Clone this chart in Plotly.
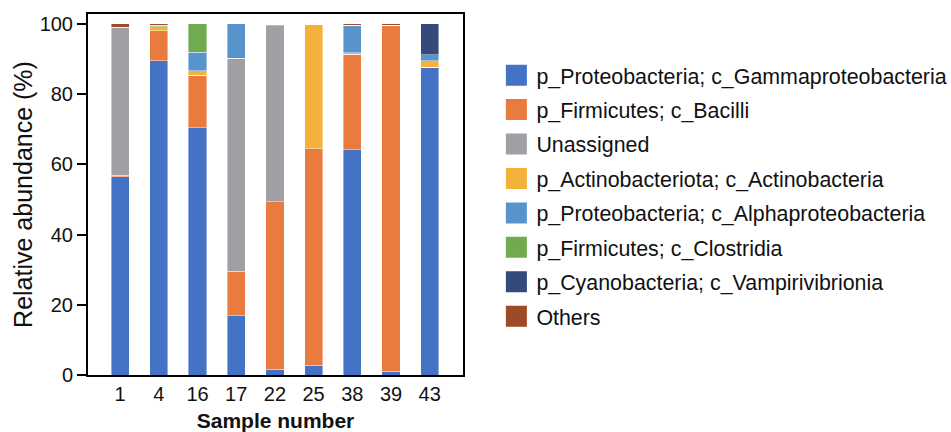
import plotly.graph_objects as go

samples = ["1", "4", "16", "17", "22", "25", "38", "39", "43"]

series_names = [
    "p_Proteobacteria; c_Gammaproteobacteria",
    "p_Firmicutes; c_Bacilli",
    "Unassigned",
    "p_Actinobacteriota; c_Actinobacteria",
    "p_Proteobacteria; c_Alphaproteobacteria",
    "p_Firmicutes; c_Clostridia",
    "p_Cyanobacteria; c_Vampirivibrionia",
    "Others",
]

gammaproteobacteria = [56.5, 89.5, 70.4, 16.9, 1.7, 2.8, 64.2, 1.1, 87.6]
bacilli = [0.4, 8.6, 14.9, 12.7, 47.6, 61.6, 27.1, 98.5, 0.0]
unassigned = [42.0, 0.0, 0.0, 60.6, 50.2, 0.0, 0.0, 0.0, 0.0]
actinobacteria = [0.0, 1.1, 1.3, 0.0, 0.0, 35.3, 0.4, 0.0, 1.9]
alphaproteobacteria = [0.0, 0.0, 5.3, 9.8, 0.3, 0.0, 7.9, 0.0, 1.7]
clostridia = [0.1, 0.4, 8.1, 0.0, 0.0, 0.0, 0.0, 0.0, 0.0]
vampirivibrionia = [0.0, 0.0, 0.0, 0.0, 0.0, 0.0, 0.0, 0.0, 8.8]
others = [1.0, 0.4, 0.0, 0.0, 0.0, 0.0, 0.4, 0.4, 0.0]

series_values = [gammaproteobacteria, bacilli, unassigned, actinobacteria,
                 alphaproteobacteria, clostridia, vampirivibrionia, others]

colors = ["#4472C4", "#E97B3E", "#A0A0A4", "#F4B23A",
          "#5894CB", "#70AB4F", "#334A7A", "#9C4A28"]

y_ticks = [0, 20, 40, 60, 80, 100]

fig = go.Figure()

for name, vals, col in zip(series_names, series_values, colors):
    fig.add_trace(go.Bar(
        x=samples, y=vals, name=name,
        marker=dict(color=col, line=dict(color="rgba(255,255,255,0.7)", width=0.6)),
        width=0.47, showlegend=False,
    ))

# legend entries (larger square symbols)
for i, (name, col) in enumerate(zip(series_names, colors)):
    fig.add_trace(go.Scatter(
        x=[None], y=[None], mode="markers", name=name,
        legendgroup=f"g{i}",
        marker=dict(symbol="square", size=16, color=col,
                    line=dict(color=col, width=5)),
        showlegend=True,
    ))

fig.update_layout(
    width=951, height=432,
    margin=dict(l=88, r=488, t=14, b=57, autoexpand=False),
    barmode="stack",
    bargap=0.53,
    plot_bgcolor="white", paper_bgcolor="white",
    font=dict(family="Liberation Sans, Arial, sans-serif", color="#111111", size=20),
    legend=dict(
        x=1.089, y=0.887, xanchor="left", yanchor="top",
        font=dict(size=21.4, color="#111111"),
        tracegroupgap=3.6, itemsizing="trace",
        bgcolor="rgba(0,0,0,0)",
    ),
    xaxis=dict(
        type="category", range=[-0.83, 8.86], automargin=False,
        showline=True, linecolor="black", linewidth=2, mirror=True,
        ticks="", tickfont=dict(size=20),
        title=dict(text="<b>Sample number</b>", font=dict(size=21), standoff=16),
    ),
    yaxis=dict(
        range=[0, 102.8], tickvals=y_ticks, automargin=False,
        showline=True, linecolor="black", linewidth=2, mirror=True,
        ticks="outside", ticklen=9, tickwidth=1.5, tickcolor="black",
        showgrid=False, zeroline=False, tickfont=dict(size=20),
        title=dict(text="Relative abundance (%)", font=dict(size=25), standoff=0),
    ),
)

fig.write_html(
    "out.html",
    config={"displayModeBar": False},
    post_script="document.body.style.margin='0';document.body.style.overflow='hidden';",
)
